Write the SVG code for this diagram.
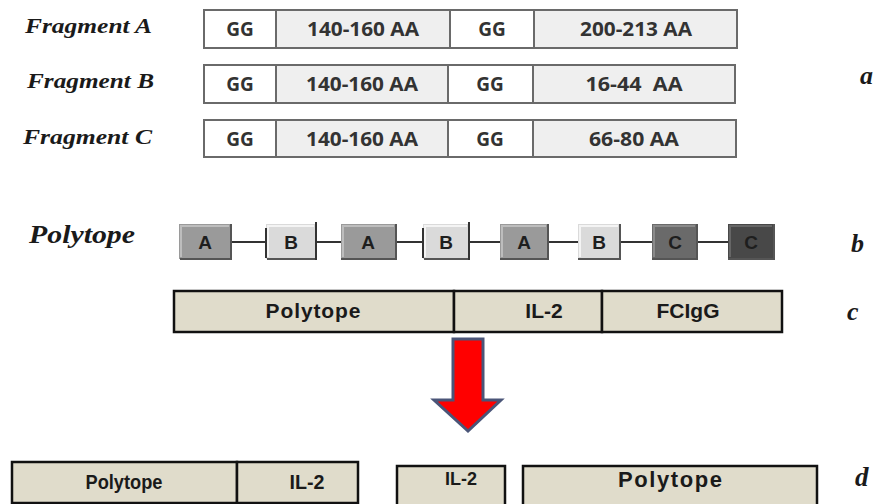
<svg xmlns="http://www.w3.org/2000/svg" width="876" height="504" viewBox="0 0 876 504">
<style>
.lab{font-family:"Liberation Serif",serif;font-style:italic;font-weight:bold;fill:#1a1a1a}
.cell{fill:#efefef;stroke:#6a6a6a;stroke-width:2}
.gg{fill:#ffffff;stroke:#6a6a6a;stroke-width:2}
.ct{font-family:"Open Sans","Liberation Sans",sans-serif;font-weight:bold;fill:#333;text-anchor:middle}
.pb{stroke:none}
.hl{fill:none;stroke-width:2}
.sh{fill:none;stroke:#555;stroke-width:2}
.bar{stroke:#333;stroke-width:2}
.pt{font-family:"Liberation Sans",sans-serif;font-weight:bold;font-size:19px;fill:#1e1e1e;text-anchor:middle}
.beige{fill:#e0dccb;stroke:#111;stroke-width:2.5}
.bt{font-family:"Liberation Sans",sans-serif;font-weight:bold;fill:#1a1a1a;text-anchor:middle}
.link{stroke:#333;stroke-width:2}
</style>

<!-- Fragment rows -->
<g id="fragA">
<text class="lab" x="25" y="33" font-size="21" textLength="127" lengthAdjust="spacingAndGlyphs">Fragment A</text>
<rect class="gg" x="204" y="10" width="72" height="38"/>
<rect class="cell" x="276" y="10" width="174" height="38"/>
<rect class="gg" x="450" y="10" width="84" height="38"/>
<rect class="cell" x="534" y="10" width="203" height="38"/>
<text class="ct" x="240" y="36" font-size="19">GG</text>
<text class="ct" x="363" y="36" font-size="19" textLength="112" lengthAdjust="spacingAndGlyphs">140-160 AA</text>
<text class="ct" x="492" y="36" font-size="19">GG</text>
<text class="ct" x="636" y="36" font-size="19" textLength="112" lengthAdjust="spacingAndGlyphs">200-213 AA</text>
</g>
<g id="fragB">
<text class="lab" x="27" y="88" font-size="21" textLength="127" lengthAdjust="spacingAndGlyphs">Fragment B</text>
<rect class="gg" x="204" y="65" width="72" height="38"/>
<rect class="cell" x="276" y="65" width="172" height="38"/>
<rect class="gg" x="448" y="65" width="85" height="38"/>
<rect class="cell" x="533" y="65" width="202" height="38"/>
<text class="ct" x="240" y="91" font-size="19">GG</text>
<text class="ct" x="362" y="91" font-size="19" textLength="112" lengthAdjust="spacingAndGlyphs">140-160 AA</text>
<text class="ct" x="490" y="91" font-size="19">GG</text>
<text class="ct" x="634" y="91" font-size="19" textLength="97" lengthAdjust="spacingAndGlyphs" xml:space="preserve">16-44  AA</text>
</g>
<g id="fragC">
<text class="lab" x="23" y="144" font-size="21" textLength="129" lengthAdjust="spacingAndGlyphs">Fragment C</text>
<rect class="gg" x="204" y="120" width="72" height="37"/>
<rect class="cell" x="276" y="120" width="172" height="37"/>
<rect class="gg" x="448" y="120" width="85" height="37"/>
<rect class="cell" x="533" y="120" width="203" height="37"/>
<text class="ct" x="240" y="146" font-size="19">GG</text>
<text class="ct" x="362" y="146" font-size="19" textLength="112" lengthAdjust="spacingAndGlyphs">140-160 AA</text>
<text class="ct" x="490" y="146" font-size="19">GG</text>
<text class="ct" x="634" y="146" font-size="19" textLength="90" lengthAdjust="spacingAndGlyphs">66-80 AA</text>
</g>
<g id="label-a"><text class="lab" x="860" y="84" font-size="26">a</text></g>

<!-- Polytope chain -->
<g id="polytope-label"><text class="lab" x="29" y="243" font-size="25" textLength="106" lengthAdjust="spacingAndGlyphs">Polytope</text></g>

<g id="connectors">
<line class="link" x1="231" y1="242" x2="266" y2="242"/>
<line class="link" x1="316" y1="242" x2="341" y2="242"/>
<line class="link" x1="396" y1="242" x2="423" y2="242"/>
<line class="link" x1="469" y1="242" x2="500" y2="242"/>
<line class="link" x1="548" y1="242" x2="578" y2="242"/>
<line class="link" x1="620" y1="242" x2="652" y2="242"/>
<line class="link" x1="697" y1="242" x2="728" y2="242"/>
</g>

<g id="p1">
<rect class="pb" x="179" y="224" width="52" height="35" fill="#9a9a9a"/>
<polyline class="hl" points="181,257 181,226 229,226" stroke="#bdbdbd"/>
<polyline class="sh" points="180,259 231,259 231,224"/>
<text class="pt" x="205" y="249">A</text>
</g>
<g id="p2">
<rect class="pb" x="266" y="224" width="50" height="35" fill="#dadada"/>
<polyline class="hl" points="268,257 268,226 314,226" stroke="#f4f4f4"/>
<polyline class="sh" points="267,259 316,259" stroke="#999"/>
<line class="bar" x1="266" y1="228" x2="266" y2="258"/>
<line class="bar" x1="316" y1="222" x2="316" y2="260"/>
<text class="pt" x="291" y="249">B</text>
</g>
<g id="p3">
<rect class="pb" x="341" y="224" width="55" height="35" fill="#9a9a9a"/>
<polyline class="hl" points="343,257 343,226 394,226" stroke="#bdbdbd"/>
<polyline class="sh" points="341,259 396,259 396,224"/>
<text class="pt" x="368" y="249">A</text>
</g>
<g id="p4">
<rect class="pb" x="423" y="224" width="46" height="35" fill="#dadada"/>
<polyline class="hl" points="425,257 425,226 467,226" stroke="#f4f4f4"/>
<polyline class="sh" points="424,259 469,259" stroke="#999"/>
<line class="bar" x1="423" y1="228" x2="423" y2="258"/>
<line class="bar" x1="469" y1="222" x2="469" y2="260"/>
<text class="pt" x="446" y="249">B</text>
</g>
<g id="p5">
<rect class="pb" x="500" y="224" width="48" height="35" fill="#9a9a9a"/>
<polyline class="hl" points="502,257 502,226 546,226" stroke="#bdbdbd"/>
<polyline class="sh" points="500,259 548,259 548,224"/>
<text class="pt" x="524" y="249">A</text>
</g>
<g id="p6">
<rect class="pb" x="578" y="224" width="42" height="35" fill="#dadada"/>
<polyline class="hl" points="580,257 580,226 618,226" stroke="#f4f4f4"/>
<polyline class="sh" points="578,259 620,259 620,224" stroke="#888"/>
<text class="pt" x="599" y="249">B</text>
</g>
<g id="p7">
<rect class="pb" x="652" y="224" width="45" height="35" fill="#6a6a6a"/>
<polyline class="hl" points="654,257 654,226 695,226" stroke="#8a8a8a"/>
<polyline class="sh" points="652,259 697,259 697,224" stroke="#333"/>
<text class="pt" x="675" y="249">C</text>
</g>
<g id="p8">
<rect class="pb" x="728" y="224" width="46" height="35" fill="#484848"/>
<polyline class="hl" points="730,257 730,226 772,226" stroke="#666"/>
<polyline class="sh" points="728,259 774,259 774,224" stroke="#222"/>
<text class="pt" x="751" y="249">C</text>
</g>
<g id="label-b"><text class="lab" x="851" y="252" font-size="26">b</text></g>

<!-- construct c -->
<g id="constructC">
<rect class="beige" x="174" y="291" width="280" height="41"/>
<rect class="beige" x="454" y="291" width="148" height="41"/>
<rect class="beige" x="602" y="291" width="180" height="41"/>
<text class="bt" x="313" y="318" font-size="21" textLength="95" lengthAdjust="spacing">Polytope</text>
<text class="bt" x="544" y="318" font-size="21">IL-2</text>
<text class="bt" x="688" y="318" font-size="21">FCIgG</text>
</g>
<g id="label-c"><text class="lab" x="847" y="320" font-size="26">c</text></g>

<!-- arrow -->
<g id="arrow">
<polygon points="453,339 483,339 483,400 501,400 468,431 434,400 453,400" fill="#ff0000" stroke="#4a5578" stroke-width="3" stroke-linejoin="miter"/>
</g>

<!-- d row -->
<g id="d-left">
<rect class="beige" x="12" y="462" width="225" height="41"/>
<rect class="beige" x="237" y="462" width="121" height="41"/>
<text class="bt" x="124" y="489" font-size="20" textLength="77" lengthAdjust="spacingAndGlyphs">Polytope</text>
<text class="bt" x="307" y="489" font-size="20" textLength="35" lengthAdjust="spacingAndGlyphs">IL-2</text>
</g>
<g id="d-mid">
<rect class="beige" x="397" y="466" width="108" height="40"/>
<text class="bt" x="461" y="485" font-size="19" textLength="32" lengthAdjust="spacingAndGlyphs">IL-2</text>
</g>
<g id="d-right">
<rect class="beige" x="523" y="466" width="294" height="40"/>
<text class="bt" x="670" y="487" font-size="22" textLength="104" lengthAdjust="spacing">Polytope</text>
</g>
<g id="label-d"><text class="lab" x="855" y="486" font-size="27">d</text></g>
</svg>
